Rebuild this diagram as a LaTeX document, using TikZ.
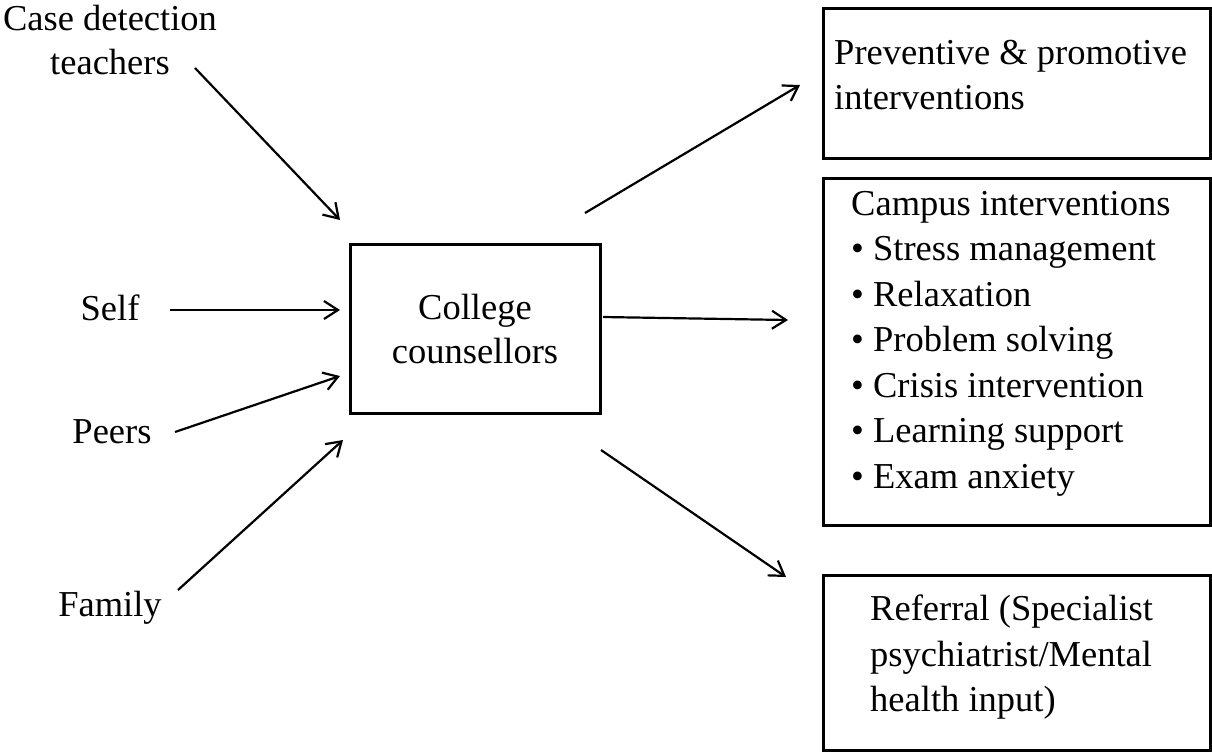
\documentclass[tikz,border=0pt]{standalone}
\usepackage{fontspec}
\setmainfont{Liberation Serif}
\usetikzlibrary{arrows.meta}
\begin{document}
\begin{tikzpicture}[x=1pt,y=-1pt,
  txt/.style={font=\fontsize{36.5}{44}\selectfont, inner sep=0pt, align=center},
  ltxt/.style={font=\fontsize{36.5}{45.5}\selectfont, inner sep=0pt, align=left, anchor=north west},
  boxx/.style={draw, line width=3pt},
  arr/.style={line width=2.2pt, -{Straight Barb[length=14pt,width=18pt,line width=2.2pt]}}]
\useasboundingbox (0,0) rectangle (1212,753);
\node[txt] (case) at (110,40) {Case detection\\teachers};
\node[txt] (self) at (110,308) {Self};
\node[txt] (peers) at (112,432) {Peers};
\node[txt] (family) at (110,608) {Family};
\draw[boxx] (350,244) rectangle (600,413);
\node[txt] (college) at (475,329) {College\\counsellors};
\draw[boxx] (823,8) rectangle (1210,158);
\node[ltxt] (prev) at (834,40) {Preventive \& promotive\\interventions};
\draw[boxx] (823,178) rectangle (1210,525);
\node[ltxt] (camp) at (851,191) {Campus interventions\\\textbullet{} Stress management\\\textbullet{} Relaxation\\\textbullet{} Problem solving\\\textbullet{} Crisis intervention\\\textbullet{} Learning support\\\textbullet{} Exam anxiety};
\draw[boxx] (823,575) rectangle (1210,750);
\node[ltxt] (ref) at (870,595) {Referral (Specialist\\psychiatrist/Mental\\health input)};
\coordinate (a1s) at (195,68); \coordinate (a1e) at (340,220);
\coordinate (a2s) at (170,310); \coordinate (a2e) at (340,310);
\coordinate (a3s) at (175,432); \coordinate (a3e) at (340,376);
\coordinate (a4s) at (178,590); \coordinate (a4e) at (343,440);
\coordinate (b1s) at (585,213); \coordinate (b1e) at (800,85);
\coordinate (b2s) at (603,317); \coordinate (b2e) at (788,320);
\coordinate (b3s) at (601,450); \coordinate (b3e) at (786,577);
\foreach \s/\e in {a1s/a1e,a2s/a2e,a3s/a3e,a4s/a4e,b1s/b1e,b2s/b2e,b3s/b3e}
  \draw[arr] (\s) -- (\e);
\end{tikzpicture}
\end{document}
